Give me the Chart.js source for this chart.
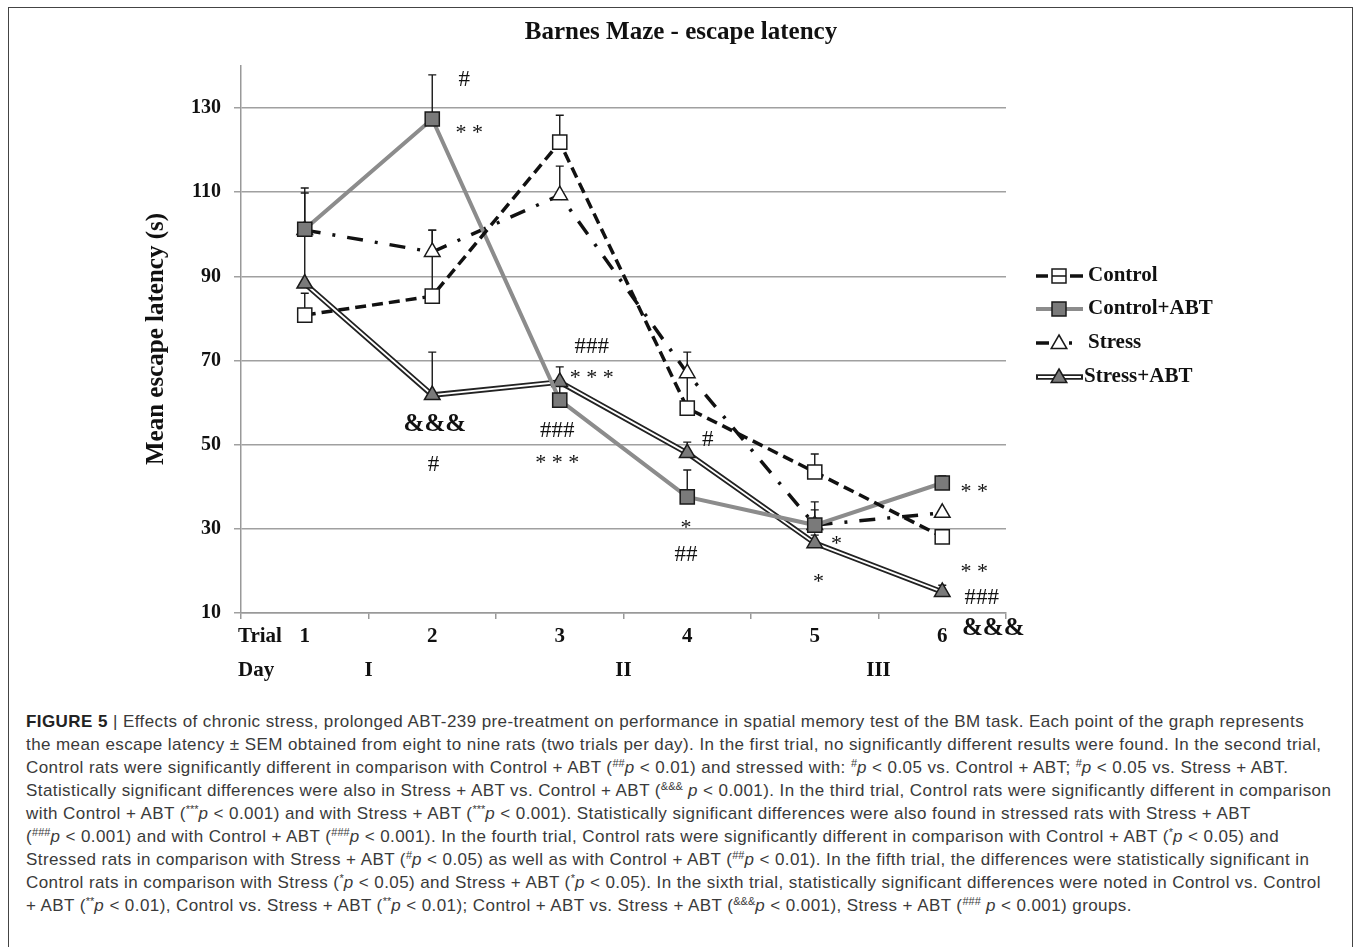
<!DOCTYPE html>
<html>
<head>
<meta charset="utf-8">
<title>Barnes Maze - escape latency</title>
<script src="https://cdn.jsdelivr.net/npm/chart.js@4.4.1/dist/chart.umd.min.js"></script>
<style>
body { margin: 0; background: #fff; }
#page { position: relative; width: 1356px; height: 947px; overflow: hidden; }
#frame { position: absolute; left: 8px; top: 7px; width: 1343px; height: 980px; border: 1.5px solid #444; }
#chart { position: absolute; left: 0; top: 0; }
#caption { position: absolute; left: 26px; top: 710px; font-family: 'Liberation Sans', Arial, sans-serif;
  font-size: 17px; letter-spacing: 0.42px; line-height: 23px; color: #3a3a3a; white-space: nowrap; }
#caption sup { font-size: 11px; line-height: 0; vertical-align: 6px; letter-spacing: 0; }
#caption b { color: #222; }
</style>
</head>
<body>
<div id="page">
  <div id="frame"></div>
  <canvas id="chart" width="1356" height="700"></canvas>
  <div id="caption">
    <div><b>FIGURE 5</b> | Effects of chronic stress, prolonged ABT-239 pre-treatment on performance in spatial memory test of the BM task. Each point of the graph represents</div>
    <div>the mean escape latency ± SEM obtained from eight to nine rats (two trials per day). In the first trial, no significantly different results were found. In the second trial,</div>
    <div>Control rats were significantly different in comparison with Control + ABT (<sup>##</sup><i>p</i> &lt; 0.01) and stressed with: <sup>#</sup><i>p</i> &lt; 0.05 vs. Control + ABT; <sup>#</sup><i>p</i> &lt; 0.05 vs. Stress + ABT.</div>
    <div>Statistically significant differences were also in Stress + ABT vs. Control + ABT (<sup>&amp;&amp;&amp;</sup> <i>p</i> &lt; 0.001). In the third trial, Control rats were significantly different in comparison</div>
    <div>with Control + ABT (<sup>***</sup><i>p</i> &lt; 0.001) and with Stress + ABT (<sup>***</sup><i>p</i> &lt; 0.001). Statistically significant differences were also found in stressed rats with Stress + ABT</div>
    <div>(<sup>###</sup><i>p</i> &lt; 0.001) and with Control + ABT (<sup>###</sup><i>p</i> &lt; 0.001). In the fourth trial, Control rats were significantly different in comparison with Control + ABT (<sup>*</sup><i>p</i> &lt; 0.05) and</div>
    <div>Stressed rats in comparison with Stress + ABT (<sup>#</sup><i>p</i> &lt; 0.05) as well as with Control + ABT (<sup>##</sup><i>p</i> &lt; 0.01). In the fifth trial, the differences were statistically significant in</div>
    <div>Control rats in comparison with Stress (<sup>*</sup><i>p</i> &lt; 0.05) and Stress + ABT (<sup>*</sup><i>p</i> &lt; 0.05). In the sixth trial, statistically significant differences were noted in Control vs. Control</div>
    <div>+ ABT (<sup>**</sup><i>p</i> &lt; 0.01), Control vs. Stress + ABT (<sup>**</sup><i>p</i> &lt; 0.01); Control + ABT vs. Stress + ABT (<sup>&amp;&amp;&amp;</sup><i>p</i> &lt; 0.001), Stress + ABT (<sup>###</sup> <i>p</i> &lt; 0.001) groups.</div>
  </div>
</div>
<script>
// values
var trials = ["1", "2", "3", "4", "5", "6"];
var days = ["I", "II", "III"];
var yTicks = [10, 30, 50, 70, 90, 110, 130];

var control = [80.8, 85.3, 121.9, 58.7, 43.5, 28.1];
var controlErr = [86, 101, 128.3, 66, 47.8, null];
var controlAbt = [101.2, 127.4, 60.6, 37.6, 30.9, 40.9];
var controlAbtErr = [111, 137.9, 64, 44, 34.5, 42.6];
var stress = [101, 95.8, 109.3, 67, 30.9, 33.8];
var stressErr = [null, 101, 116.2, 72, 36.4, null];
var stressAbt = [88.3, 61.8, 64.9, 48, 26.6, 15];
var stressAbtErr = [109.8, 72, 68.5, 50.6, 28.5, 16.6];

// significance marks: text, trial position, value
var marks = ["#", "**", "###", "***", "&&&", "#", "###", "***", "#", "*", "##", "*", "*", "**", "**", "###", "&&&"];
var markTrial = [2.25, 2.29, 3.25, 3.25, 2.02, 2.01, 2.98, 2.98, 4.16, 3.99, 3.99, 5.17, 5.03, 6.25, 6.25, 6.31, 6.40];
var markValue = [136.7, 125.3, 73.2, 67.0, 54.9, 45.2, 53.3, 46.8, 51.1, 31.4, 23.8, 27.6, 18.6, 39.9, 20.9, 13.6, 6.4];

var serif = "'Liberation Serif', 'Times New Roman', serif";

function xAt(chart, t) {
    var xs = chart.scales.x;
    var p0 = xs.getPixelForValue(0), p1 = xs.getPixelForValue(1);
    return p0 + (t - 1) * (p1 - p0);
}

function marker(ctx, type, x, y, fill) {
    ctx.save();
    ctx.setLineDash([]);
    ctx.fillStyle = fill;
    ctx.strokeStyle = "#1a1a1a";
    ctx.lineWidth = 1.5;
    ctx.beginPath();
    if (type == "rect") {
        ctx.rect(x - 7, y - 7, 14, 14);
    } else {
        ctx.moveTo(x, y - 9);
        ctx.lineTo(x + 7.8, y + 4.5);
        ctx.lineTo(x - 7.8, y + 4.5);
        ctx.closePath();
    }
    ctx.fill();
    ctx.stroke();
    ctx.restore();
}

var decor = {
    id: "decor",
    beforeDatasetsDraw: function (chart) {
        var ctx = chart.ctx, ys = chart.scales.y;
        var sets = [[control, controlErr], [controlAbt, controlAbtErr], [stress, stressErr], [stressAbt, stressAbtErr]];
        ctx.save();
        ctx.strokeStyle = "#1a1a1a";
        ctx.lineWidth = 1.4;
        sets.forEach(function (s) {
            for (var i = 0; i < s[0].length; i++) {
                if (s[1][i] == null) continue;
                var x = chart.scales.x.getPixelForValue(i);
                var y0 = ys.getPixelForValue(s[0][i]);
                var y1 = ys.getPixelForValue(s[1][i]);
                ctx.beginPath();
                ctx.moveTo(x, y0); ctx.lineTo(x, y1);
                ctx.moveTo(x - 4, y1); ctx.lineTo(x + 4, y1);
                ctx.stroke();
            }
        });
        ctx.restore();
    },
    afterDraw: function (chart) {
        var ctx = chart.ctx, ys = chart.scales.y, xs = chart.scales.x;
        ctx.save();
        ctx.fillStyle = "#111";
        // title
        ctx.font = "bold 25px " + serif;
        ctx.textAlign = "center";
        ctx.textBaseline = "middle";
        ctx.fillText("Barnes Maze - escape latency", 681, 33);
        // y axis title
        ctx.save();
        ctx.translate(157, 339);
        ctx.rotate(-Math.PI / 2);
        ctx.font = "bold 25px " + serif;
        ctx.fillText("Mean escape latency (s)", 0, 0);
        ctx.restore();
        // Trial / Day rows
        ctx.font = "bold 21px " + serif;
        ctx.textAlign = "left";
        ctx.fillText("Trial", 238, 637);
        ctx.fillText("Day", 238, 671);
        ctx.textAlign = "center";
        for (var d = 0; d < days.length; d++) {
            var xm = (xs.getPixelForValue(d * 2) + xs.getPixelForValue(d * 2 + 1)) / 2;
            ctx.fillText(days[d], xm, 671);
        }
        // significance marks
        for (var m = 0; m < marks.length; m++) {
            var t = marks[m], x = xAt(chart, markTrial[m]), y = ys.getPixelForValue(markValue[m]);
            if (t.charAt(0) == "&") {
                ctx.font = "bold 25px " + serif;
            } else if (t.charAt(0) == "*") {
                ctx.font = "22px " + serif;
                y += 5;
                t = t.split("").join(" ");
            } else {
                ctx.font = "23px " + serif;
            }
            ctx.fillText(t, x, y);
        }
        // legend
        var items = ["Control", "Control+ABT", "Stress", "Stress+ABT"];
        var ly = [276, 309, 343, 377];
        ctx.textAlign = "left";
        ctx.font = "bold 21px " + serif;
        // Control
        ctx.strokeStyle = "#111"; ctx.lineWidth = 3.5;
        ctx.beginPath();
        ctx.moveTo(1036, ly[0]); ctx.lineTo(1048, ly[0]);
        ctx.moveTo(1070, ly[0]); ctx.lineTo(1083, ly[0]);
        ctx.stroke();
        marker(ctx, "rect", 1059, ly[0], "#fff");
        ctx.lineWidth = 1.5;
        ctx.beginPath(); ctx.moveTo(1052, ly[0]); ctx.lineTo(1066, ly[0]); ctx.stroke();
        // Control+ABT
        ctx.strokeStyle = "#8c8c8c"; ctx.lineWidth = 4;
        ctx.beginPath(); ctx.moveTo(1036, ly[1]); ctx.lineTo(1083, ly[1]); ctx.stroke();
        marker(ctx, "rect", 1059, ly[1], "#7a7a7a");
        // Stress
        ctx.strokeStyle = "#111"; ctx.lineWidth = 3.5;
        ctx.beginPath(); ctx.moveTo(1036, ly[2]); ctx.lineTo(1049, ly[2]); ctx.stroke();
        marker(ctx, "tri", 1059, ly[2] + 1, "#fff");
        ctx.beginPath(); ctx.moveTo(1069, ly[2]); ctx.lineTo(1072, ly[2]); ctx.stroke();
        // Stress+ABT
        ctx.strokeStyle = "#222"; ctx.lineWidth = 5.5;
        ctx.beginPath(); ctx.moveTo(1036, ly[3]); ctx.lineTo(1083, ly[3]); ctx.stroke();
        ctx.strokeStyle = "#fff"; ctx.lineWidth = 1.8;
        ctx.beginPath(); ctx.moveTo(1038, ly[3]); ctx.lineTo(1081, ly[3]); ctx.stroke();
        marker(ctx, "tri", 1059, ly[3] + 1, "#7a7a7a");
        ctx.fillStyle = "#111";
        ctx.fillText(items[0], 1088, ly[0]);
        ctx.fillText(items[1], 1088, ly[1]);
        ctx.fillText(items[2], 1088, ly[2]);
        ctx.fillText(items[3], 1084, ly[3]);
        ctx.restore();
    }
};

var config = {
    type: "line",
    data: {
        labels: trials,
        datasets: [
            {
                label: "Control", data: control, order: 0,
                borderColor: "#111", borderWidth: 3.5, borderDash: [11, 6],
                pointStyle: "rect", pointRadius: 10, pointBackgroundColor: "#fff",
                pointBorderColor: "#1a1a1a", pointBorderWidth: 1.5
            },
            {
                label: "Control+ABT", data: controlAbt, order: 1,
                borderColor: "#8c8c8c", borderWidth: 4,
                pointStyle: "rect", pointRadius: 10, pointBackgroundColor: "#7a7a7a",
                pointBorderColor: "#1a1a1a", pointBorderWidth: 1.5
            },
            {
                label: "Stress", data: stress, order: 2,
                borderColor: "#111", borderWidth: 3.5, borderDash: [16, 12, 3, 12],
                pointStyle: "triangle", pointRadius: 9, pointBackgroundColor: "#fff",
                pointBorderColor: "#1a1a1a", pointBorderWidth: 1.5
            },
            {
                label: "Stress+ABT", data: stressAbt, order: 3,
                borderColor: "#fff", borderWidth: 1.8,
                pointStyle: "triangle", pointRadius: 9, pointBackgroundColor: "#7a7a7a",
                pointBorderColor: "#1a1a1a", pointBorderWidth: 1.5
            },
            {
                label: "Stress+ABT outline", data: stressAbt, order: 4,
                borderColor: "#222", borderWidth: 5.5, pointRadius: 0
            }
        ]
    },
    options: {
        responsive: false,
        animation: false,
        layout: { padding: { left: 0, right: 350, top: 66, bottom: 0 } },
        plugins: { legend: { display: false }, tooltip: { enabled: false }, title: { display: false } },
        scales: {
            x: {
                offset: true,
                afterFit: function (s) { s.height = 87; },
                grid: { offset: true, drawOnChartArea: false, color: "#999", tickLength: 6, lineWidth: 1.5 },
                border: { color: "#999", width: 1.5 },
                ticks: { color: "#111", font: { family: serif, size: 21, weight: "bold" }, padding: 5 }
            },
            y: {
                min: 10, max: 140,
                afterFit: function (s) { s.width = 241; },
                afterBuildTicks: function (s) { s.ticks = yTicks.map(function (v) { return { value: v }; }); },
                grid: { color: "#a0a0a0", lineWidth: 1.5, tickLength: 7 },
                border: { color: "#999", width: 1.5 },
                ticks: { color: "#111", font: { family: serif, size: 20, weight: "bold" }, padding: 13 }
            }
        }
    },
    plugins: [decor]
};

new Chart(document.getElementById("chart"), config);
</script>
</body>
</html>
